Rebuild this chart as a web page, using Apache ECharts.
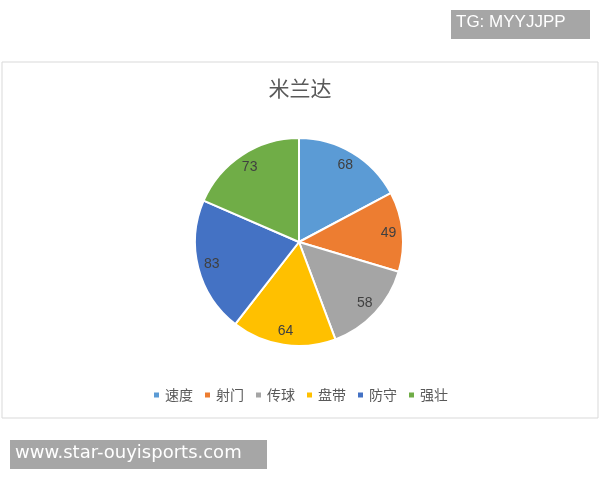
<!DOCTYPE html>
<html>
<head>
<meta charset="utf-8">
<script src="https://cdn.jsdelivr.net/npm/echarts@6/dist/echarts.min.js"></script>
<style>html,body{margin:0;padding:0;background:#fff;}#c{width:600px;height:480px;}</style>
</head>
<body>
<div id="c"></div>
<script>
const categories = ['速度', '射门', '传球', '盘带', '防守', '强壮'];
const values = [68, 49, 58, 64, 83, 73];
const colors = ['#5B9BD5', '#ED7D31', '#A5A5A5', '#FFC000', '#4472C4', '#70AD47'];
const titleText = '米兰达';

const data = categories.map((c, i) => ({ name: c, value: values[i], itemStyle: { color: colors[i] } }));
const labelData = categories.map((c, i) => ({ name: c, value: values[i] }));

const chart = echarts.init(document.getElementById('c'), null, { renderer: 'canvas' });
chart.setOption({
  animation: false,
  backgroundColor: '#fff',
  title: {
    text: titleText, left: 'center', top: 73,
    textStyle: { fontSize: 21, fontWeight: 'normal', color: '#595959', fontFamily: 'Noto Sans CJK SC' }
  },
  legend: {
    data: categories, bottom: 73, left: 'center',
    icon: 'rect', itemWidth: 7, itemHeight: 7, itemGap: 10,
    textStyle: { fontSize: 14, color: '#595959', fontFamily: 'Noto Sans CJK SC' }
  },
  graphic: [
    { type: 'rect', shape: { x: 2, y: 62, width: 596, height: 356 }, style: { fill: 'none', stroke: '#d9d9d9', lineWidth: 1 }, z: -1 },
    { type: 'rect', shape: { x: 451, y: 10, width: 139, height: 29 }, style: { fill: '#a6a6a6' } },
    { type: 'text', left: 456, top: 14, style: { text: 'TG: MYYJJPP', fill: '#fff', fontSize: 17, fontFamily: 'Liberation Sans' } },
    { type: 'rect', shape: { x: 10, y: 440, width: 257, height: 29 }, style: { fill: '#a6a6a6' } },
    { type: 'text', left: 15, top: 444, style: { text: 'www.star-ouyisports.com', fill: '#fff', fontSize: 18, fontFamily: 'DejaVu Sans' } }
  ],
  series: [
    {
      type: 'pie', center: [299, 242], radius: [0, 104], startAngle: 90, clockwise: true,
      data: data, label: { show: false }, labelLine: { show: false },
      itemStyle: { borderColor: '#fff', borderWidth: 2 }, emphasis: { disabled: true }
    },
    {
      type: 'pie', center: [299, 242], radius: [70, 104], startAngle: 90, clockwise: true, silent: true,
      data: labelData, legendHoverLink: false,
      itemStyle: { color: 'rgba(0,0,0,0)', borderWidth: 0 },
      label: { show: true, position: 'inside', formatter: '{c}', fontSize: 14, color: '#404040', fontFamily: 'Liberation Sans' },
      labelLine: { show: false }, emphasis: { disabled: true }
    }
  ]
});
</script>
</body>
</html>
